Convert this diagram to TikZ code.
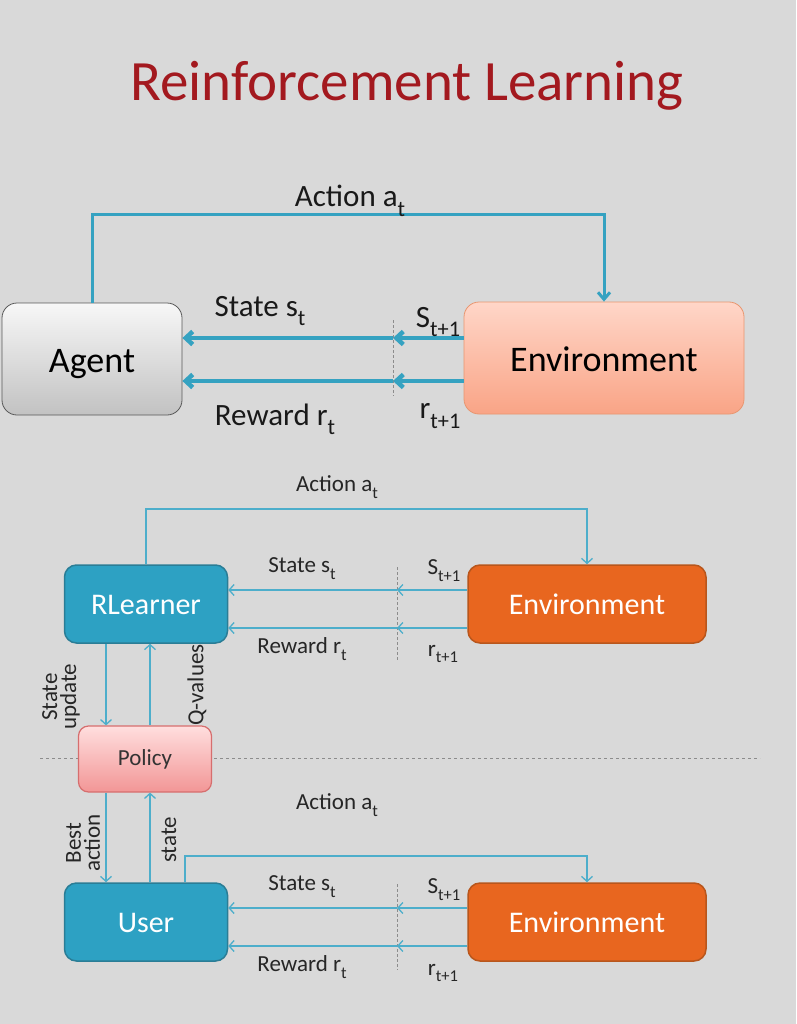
\documentclass[tikz,border=0pt]{standalone}
\usepackage{graphicx}
\usepackage{fontspec}
\setmainfont{Carlito}
\usetikzlibrary{arrows.meta,positioning}

\definecolor{slide}{HTML}{D9D9D9}
\definecolor{titlered}{HTML}{A3191F}
\definecolor{flowblue}{HTML}{35A2C1}
\definecolor{thinblue}{HTML}{4DAECB}
\definecolor{learnfill}{HTML}{2DA1C3}
\definecolor{learnline}{HTML}{2A7D96}
\definecolor{envfill}{HTML}{E8661F}
\definecolor{envline}{HTML}{B8561C}

\newcommand{\subtxt}[1]{\raisebox{-0.3em}{\scalebox{0.72}{#1}}}

\begin{document}
\begin{tikzpicture}
  [x=1pt,y=-1pt,
   agentbox/.style={rectangle,rounded corners=15pt,draw=black!65,thick,top color=black!3,bottom color=black!24,minimum width=180pt,minimum height=112pt,inner sep=0pt,text height=26pt,text depth=0pt,font=\fontsize{36}{40}\selectfont},
   envbox/.style={rectangle,rounded corners=15pt,draw={rgb,255:red,232;green,150;blue,112},thick,top color={rgb,255:red,255;green,214;blue,200},bottom color={rgb,255:red,249;green,164;blue,134},minimum width=280pt,minimum height=112pt,inner sep=0pt,text height=26pt,text depth=0pt,font=\fontsize{36}{40}\selectfont},
   learner/.style={rectangle,rounded corners=12pt,draw=learnline,line width=1.5pt,fill=learnfill,text=white,minimum width=163pt,minimum height=78pt,inner sep=0pt,text height=20pt,text depth=0pt,font=\fontsize{30}{34}\selectfont},
   envdark/.style={rectangle,rounded corners=12pt,draw=envline,line width=1.5pt,fill=envfill,text=white,minimum width=238pt,minimum height=78pt,inner sep=0pt,text height=20pt,text depth=0pt,font=\fontsize{30}{34}\selectfont},
   policybox/.style={rectangle,rounded corners=10pt,draw={rgb,255:red,214;green,110;blue,110},line width=1.2pt,top color={rgb,255:red,255;green,222;blue,222},bottom color={rgb,255:red,242;green,150;blue,150},minimum width=133pt,minimum height=66pt,inner sep=0pt,font=\fontsize{23}{26}\selectfont,text=black!80},
   flow/.style={draw=flowblue,line width=4.5pt,-{Straight Barb[length=7pt,width=13pt]}},
   actflow/.style={draw=flowblue,line width=3pt,-{Straight Barb[length=7pt,width=12pt]}},
   thinflow/.style={draw=thinblue,line width=1.3pt,-{Straight Barb[length=5pt,width=11pt]}},
   divider/.style={draw=black!45,dashed,line width=0.9pt},
   biglabel/.style={inner sep=0pt,text=black!90,font=\fontsize{31}{34}\selectfont},
   smalllabel/.style={inner sep=0pt,text=black!85,font=\fontsize{23}{24}\selectfont},
   sidelabel/.style={inner sep=0pt,text=black!85,rotate=90,align=center,font=\fontsize{23}{19}\selectfont}]

  \fill[slide] (0,0) rectangle (796,1024);

  \node (title) [anchor=base,text=titlered,inner sep=0pt,font=\fontsize{57}{60}\selectfont] at (407,101) {Reinforcement Learning};

  % top: agent and environment
  \node (agent) [agentbox] at (92,359) {Agent};
  \node (env) [envbox] at (604,358) {Environment};
  \coordinate (atop) at (350,215);
  \coordinate (sdash) at (393,338);
  \coordinate (rdash) at (393,381);
  \coordinate (dtop) at (393,320);
  \coordinate (dbot) at (393,396);
  \draw[divider,dash pattern=on 3pt off 2pt,line width=0.7pt] (dtop) -- (dbot);
  \draw[actflow] (agent.north) |- (atop) -| (env.north);
  \draw[flow] (env.west |- sdash) -- (sdash);
  \draw[flow] (sdash) -- (agent.east |- sdash);
  \draw[flow] (env.west |- rdash) -- (rdash);
  \draw[flow] (rdash) -- (agent.east |- rdash);
  \node (act1) [biglabel] at (350,201) {Action a\subtxt{t}};
  \node (st1) [biglabel] at (260,311) {State s\subtxt{t}};
  \node (rw1) [biglabel] at (275,419) {Reward r\subtxt{t}};
  \node (sn1) [biglabel] at (438,322) {S\subtxt{t+1}};
  \node (rn1) [biglabel] at (440,416) {r\subtxt{t+1}};

  % middle: learner side
  \coordinate (hl) at (40,758);
  \coordinate (hr) at (760,758);
  \draw[divider] (hl) -- (hr);
  \node (learn) [learner] at (146,604) {RLearner};
  \node (env2) [envdark] at (587,604) {Environment};
  \node (pol) [policybox] at (145,759) {Policy};
  \coordinate (atop2) at (337,509);
  \coordinate (sdash2) at (397,590);
  \coordinate (rdash2) at (397,628);
  \draw[divider,dash pattern=on 3pt off 2pt,line width=0.7pt] (397,567) coordinate (dtop2) -- (397,660) coordinate (dbot2);
  \draw[thinflow] (learn.north) |- (atop2) -| (env2.north);
  \draw[thinflow] (env2.west |- sdash2) -- (sdash2);
  \draw[thinflow] (sdash2) -- (learn.east |- sdash2);
  \draw[thinflow] (env2.west |- rdash2) -- (rdash2);
  \draw[thinflow] (rdash2) -- (learn.east |- rdash2);
  \node (act2) [smalllabel] at (337,487) {Action a\subtxt{t}};
  \node (st2) [smalllabel] at (302,569) {State s\subtxt{t}};
  \node (rw2) [smalllabel] at (302,649) {Reward r\subtxt{t}};
  \node (sn2) [smalllabel] at (444,571) {S\subtxt{t+1}};
  \node (rn2) [smalllabel] at (443,654) {r\subtxt{t+1}};

  % policy links
  \coordinate (dl) at (106,0);
  \coordinate (ul) at (150,0);
  \draw[thinflow] (learn.south -| dl) -- (pol.north -| dl);
  \draw[thinflow] (pol.north -| ul) -- (learn.south -| ul);
  \node (upd) [sidelabel] at (61,697) {State\\update};
  \node (qv) [sidelabel] at (197,685) {Q-values};

  % bottom: user side
  \node (user) [learner] at (146,922) {User};
  \node (env3) [envdark] at (587,922) {Environment};
  \coordinate (ua) at (185,0);
  \coordinate (atop3) at (337,856);
  \coordinate (sdash3) at (397,908);
  \coordinate (rdash3) at (397,946);
  \draw[divider,dash pattern=on 3pt off 2pt,line width=0.7pt] (397,884) coordinate (dtop3) -- (397,970) coordinate (dbot3);
  \draw[thinflow] (user.north -| ua) |- (atop3) -| (env3.north);
  \draw[thinflow] (env3.west |- sdash3) -- (sdash3);
  \draw[thinflow] (sdash3) -- (user.east |- sdash3);
  \draw[thinflow] (env3.west |- rdash3) -- (rdash3);
  \draw[thinflow] (rdash3) -- (user.east |- rdash3);
  \draw[thinflow] (pol.south -| dl) -- (user.north -| dl);
  \draw[thinflow] (user.north -| ul) -- (pol.south -| ul);
  \node (best) [sidelabel] at (83,843) {Best\\action};
  \node (stt) [sidelabel] at (169,840) {state};
  \node (act3) [smalllabel] at (337,805) {Action a\subtxt{t}};
  \node (st3) [smalllabel] at (302,887) {State s\subtxt{t}};
  \node (rw3) [smalllabel] at (302,967) {Reward r\subtxt{t}};
  \node (sn3) [smalllabel] at (444,890) {S\subtxt{t+1}};
  \node (rn3) [smalllabel] at (443,973) {r\subtxt{t+1}};
\end{tikzpicture}
\end{document}
